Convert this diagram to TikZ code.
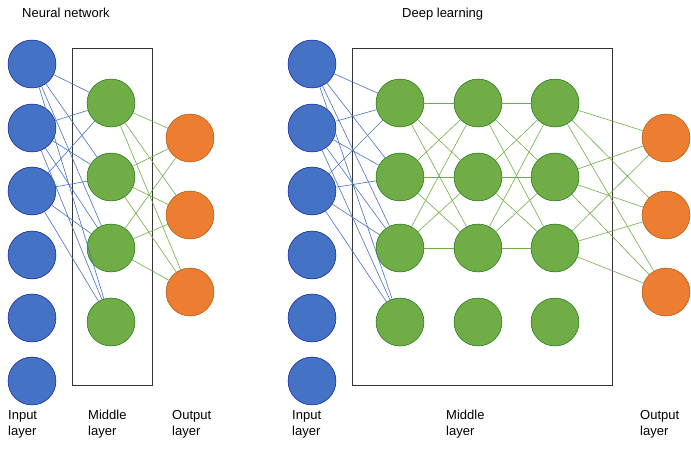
\documentclass[tikz,border=0pt]{standalone}
\usepackage{fontspec}
\setmainfont{Liberation Sans}
\begin{document}
\begin{tikzpicture}[x=1pt,y=-1pt,
  inp/.style={circle,draw=blue!60!black,fill={rgb,255:red,68;green,114;blue,196},minimum size=48pt,inner sep=0},
  mid/.style={circle,draw=green!40!black,fill={rgb,255:red,112;green,173;blue,71},minimum size=48pt,inner sep=0},
  outn/.style={circle,draw=orange!60!black,fill={rgb,255:red,237;green,125;blue,49},minimum size=48pt,inner sep=0},
  bl/.style={draw={rgb,255:red,68;green,114;blue,196},line width=0.6pt},
  gl/.style={draw={rgb,255:red,112;green,173;blue,71},line width=0.6pt},
  lbl/.style={font=\fontsize{13}{16}\selectfont,align=left,anchor=north west,inner sep=0},
  box/.style={draw=black!80,line width=0.8pt}]
\useasboundingbox (0,0) rectangle (691,471);
\draw[box] (72,48) rectangle (152,385);
\draw[box] (352,48) rectangle (612,385);
% left network
\foreach \i/\y in {1/64,2/128,3/191,4/255,5/318,6/381}{
  \node[inp] (a\i) at (32,\y) {};
  \node[inp] (d\i) at (312,\y) {};}
\foreach \i/\y in {1/103,2/177,3/248,4/322}{
  \node[mid] (m\i) at (111,\y) {};
  \node[mid] (p\i) at (400,\y) {};
  \node[mid] (q\i) at (478,\y) {};
  \node[mid] (r\i) at (555,\y) {};}
\foreach \i/\y in {1/138,2/215,3/292}{
  \node[outn] (o\i) at (190,\y) {};
  \node[outn] (e\i) at (666,\y) {};}
\begin{scope}[on background layer/.style={}]
\foreach \i in {1,2,3}{\foreach \j in {1,2,3,4}{
  \draw[bl] (a\i) -- (m\j); \draw[bl] (d\i) -- (p\j);}}
\foreach \i in {1,2,3}{\foreach \j in {1,2,3}{
  \draw[gl] (m\i) -- (o\j); \draw[gl] (p\i) -- (q\j);
  \draw[gl] (q\i) -- (r\j); \draw[gl] (r\i) -- (e\j);}}
\end{scope}
\node[lbl] (t1) at (22,8) {Neural network};
\node[lbl] (t2) at (402,8) {Deep learning};
\node[lbl] (l1) at (8,410) {Input\\layer};
\node[lbl] (l2) at (88,410) {Middle\\layer};
\node[lbl] (l3) at (172,410) {Output\\layer};
\node[lbl] (l4) at (292,410) {Input\\layer};
\node[lbl] (l5) at (446,410) {Middle\\layer};
\node[lbl] (l6) at (640,410) {Output\\layer};
\end{tikzpicture}
\end{document}
